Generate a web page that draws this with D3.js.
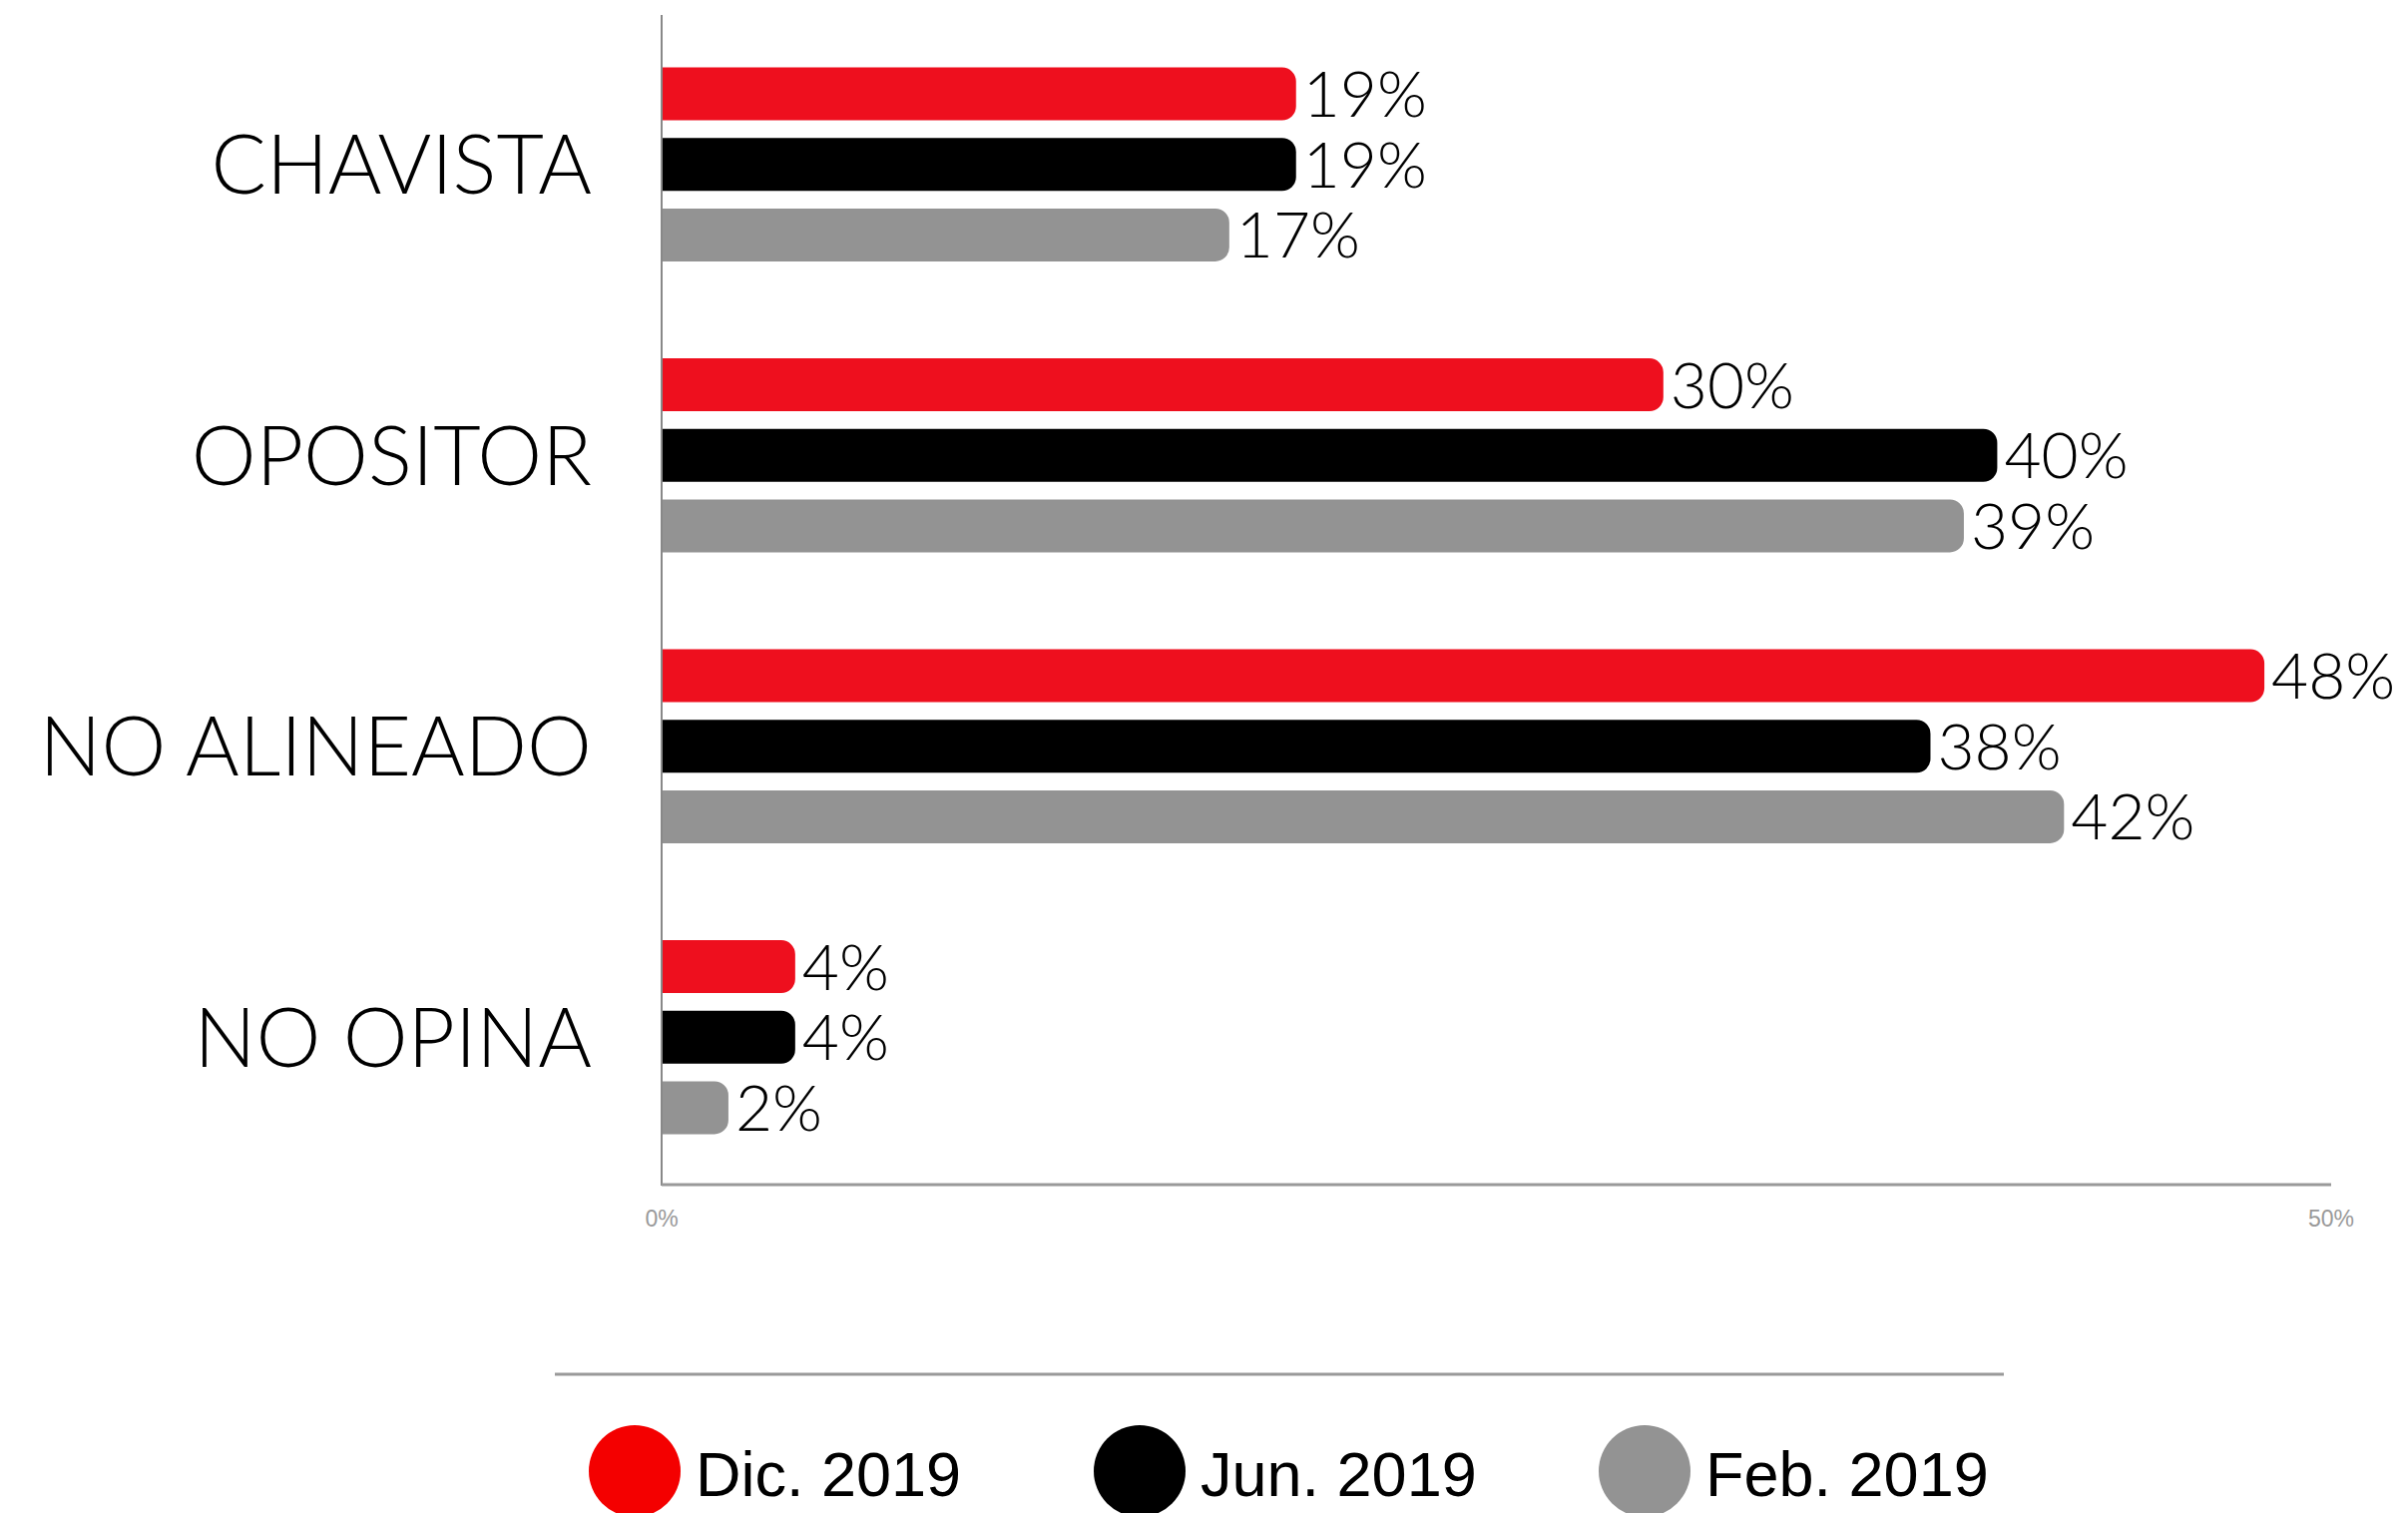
<!DOCTYPE html>
<html>
<head>
<meta charset="utf-8">
<script src="https://cdn.jsdelivr.net/npm/d3@7"></script>
<style>
  body { margin: 0; background: #fff; }
  svg { display: block; }
</style>
</head>
<body>
<div id="root"></div>
<script>
const categories = ["CHAVISTA", "OPOSITOR", "NO ALINEADO", "NO OPINA"];
const series = ["Dic. 2019", "Jun. 2019", "Feb. 2019"];
const dic2019 = [19, 30, 48, 4];
const jun2019 = [19, 40, 38, 4];
const feb2019 = [17, 39, 42, 2];
const ticks = [0, 50];

const colors = ["#ee0f1e", "#000000", "#939393"];
const legendColors = ["#f40000", "#000000", "#939393"];

const values = [dic2019, jun2019, feb2019];
const data = categories.map(function(c, i) {
  return { label: c, values: series.map(function(s, j) { return { s: s, v: values[j][i], j: j }; }) };
});

const W = 2413, H = 1516;
const svg = d3.select("#root").append("svg")
    .attr("width", W)
    .attr("height", H);

const x = d3.scaleLinear().domain([0, 50]).range([663, 2336]);
const y = d3.scaleBand().domain(categories).range([19, 1185]);
const bw = y.bandwidth();
const inner = d3.scaleBand().domain(series)
    .range([bw / 2 - 106, bw / 2 + 106])
    .paddingInner(0.25).paddingOuter(0.125);

const labelFont = "Lato, 'Open Sans', sans-serif";

// axes
svg.append("line")
    .attr("x1", x(0)).attr("x2", x(0))
    .attr("y1", 15).attr("y2", 1188)
    .attr("stroke", "#888").attr("stroke-width", 2);
svg.append("line")
    .attr("x1", x(0)).attr("x2", x(50))
    .attr("y1", 1187).attr("y2", 1187)
    .attr("stroke", "#999").attr("stroke-width", 3);

svg.selectAll(".tick")
  .data(ticks)
  .enter().append("text")
    .attr("class", "tick")
    .attr("x", function(d) { return x(d); })
    .attr("y", 1229)
    .attr("text-anchor", "middle")
    .attr("font-family", "'Liberation Sans', Arial, sans-serif")
    .attr("font-size", 23)
    .attr("fill", "#999")
    .text(function(d) { return d + "%"; });

// category labels
svg.selectAll(".cat")
  .data(categories)
  .enter().append("text")
    .attr("class", "cat")
    .attr("x", 593)
    .attr("y", function(d) { return y(d) + bw / 2; })
    .attr("dy", "0.36em")
    .attr("text-anchor", "end")
    .attr("font-family", labelFont)
    .attr("font-weight", 300)
    .attr("font-size", 82)
    .attr("fill", "#000")
    .text(function(d) { return d; });

function barPath(x0, x1, y0, h, r) {
  r = Math.min(r, (x1 - x0), h / 2);
  return "M" + x0 + "," + y0 +
    "H" + (x1 - r) +
    "A" + r + "," + r + " 0 0 1 " + x1 + "," + (y0 + r) +
    "V" + (y0 + h - r) +
    "A" + r + "," + r + " 0 0 1 " + (x1 - r) + "," + (y0 + h) +
    "H" + x0 + "Z";
}

const g = svg.selectAll(".group")
  .data(data)
  .enter().append("g")
    .attr("class", "group")
    .attr("transform", function(d) { return "translate(0," + y(d.label) + ")"; });

g.selectAll(".bar")
  .data(function(d) { return d.values; })
  .enter().append("path")
    .attr("class", "bar")
    .attr("d", function(d) { return barPath(x(0) + 1, x(d.v), inner(d.s), inner.bandwidth(), 14); })
    .attr("fill", function(d) { return colors[d.j]; });

g.selectAll(".val")
  .data(function(d) { return d.values; })
  .enter().append("text")
    .attr("class", "val")
    .attr("x", function(d) { return x(d.v) + 7; })
    .attr("y", function(d) { return inner(d.s) + inner.bandwidth() / 2; })
    .attr("dy", "0.36em")
    .attr("font-family", labelFont)
    .attr("font-weight", 300)
    .attr("font-size", 64)
    .attr("fill", "#000")
    .text(function(d) { return d.v + "%"; });

// legend
svg.append("line")
    .attr("x1", 556).attr("x2", 2008)
    .attr("y1", 1377).attr("y2", 1377)
    .attr("stroke", "#999").attr("stroke-width", 3);

const legendX = [636, 1142, 1648];
const lg = svg.selectAll(".legend")
  .data(series)
  .enter().append("g")
    .attr("class", "legend")
    .attr("transform", function(d, i) { return "translate(" + legendX[i] + ",1474)"; });

lg.append("circle")
    .attr("r", 46)
    .attr("fill", function(d, i) { return legendColors[i]; });

lg.append("text")
    .attr("x", 61)
    .attr("y", 25)
    .attr("font-family", "'Liberation Sans', Arial, sans-serif")
    .attr("font-size", 63)
    .attr("fill", "#000")
    .text(function(d) { return d; });
</script>
</body>
</html>
